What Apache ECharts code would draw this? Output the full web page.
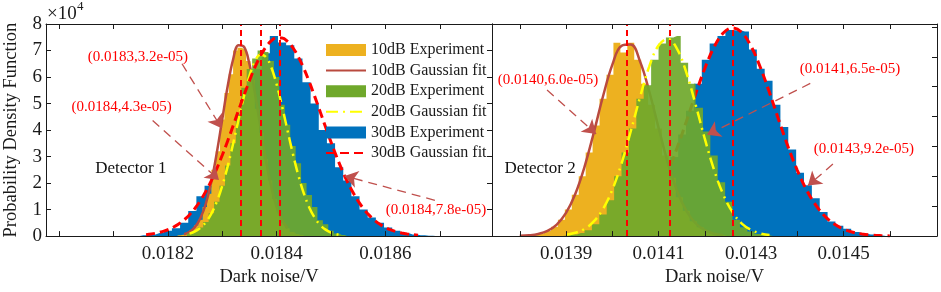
<!DOCTYPE html>
<html>
<head>
<meta charset="UTF-8">
<title>Dark noise PDF</title>
<script src="https://cdn.jsdelivr.net/npm/echarts@6/dist/echarts.min.js"></script>
<style>
  html, body { margin: 0; padding: 0; background: #fff; }
  #main { width: 941px; height: 292px; }
</style>
</head>
<body>
<div id="main"></div>
<script>
var _ = null;

// ---- Detector 1 (left) ----
var xTicks1 = [0.0180, 0.0181, 0.0182, 0.0183, 0.0184, 0.0185, 0.0186, 0.0187];
var xLabels1 = [0.0182, 0.0184, 0.0186];

// histogram bins: first bin centre, bin width, heights (x1e4)
var blue1Start = 0.018155, blue1Width = 0.000015;
var blue1Hist = [0.03,0.06,0.12,0.2,0.3,0.5,0.95,1.5,1.9,2.5,3.1,3.9,4.6,5.5,6.3,6.9,7.55,7.3,7.2,6.7,
                 5.8,5.0,4.0,3.5,2.6,2.1,1.5,1.0,0.7,0.5,0.32,0.2,0.12,0.06,0.03,0.01];
var orange1Start = 0.01822, orange1Width = 0.000008;
var orange1Hist = [0.03,0.05,0.1,0.22,0.4,0.62,1.1,1.6,2.5,3.2,4.4,5.4,6.1,7.0,7.1,7.05,6.6,5.9,4.8,3.9,
                   2.9,2.1,1.4,0.9,0.5,0.3,0.15,0.08,0.04];
var green1Start = 0.01824, green1Width = 0.00001;
var green1Hist = [0.1,0.18,0.32,0.53,0.86,1.3,1.9,2.66,3.5,4.6,5.6,6.3,6.7,7.0,6.94,6.6,6.0,4.95,4.2,3.4,
                  2.75,2.0,1.55,1.1,0.6,0.45,0.2,0.1,0.04];

// gaussian fits, read along a common x grid
var fitX1 = [0.01816,0.01817,0.01818,0.01819,0.01820,0.01821,0.01822,0.01823,0.01824,0.01825,
             0.01826,0.01827,0.01828,0.01829,0.01830,0.01831,0.01832,0.01833,0.01834,0.01835,
             0.01836,0.01837,0.01838,0.01839,0.01840,0.01841,0.01842,0.01843,0.01844,0.01845,
             0.01846,0.01847,0.01848,0.01849,0.01850,0.01851,0.01852,0.01853,0.01854,0.01855,
             0.01856,0.01857,0.01858,0.01859,0.01860,0.01861,0.01862,0.01863,0.01864,0.01865,0.01866];
var orangeFit1 = [_,_,_,_,_,_,_,0.07,0.16,0.34,
                  0.68,1.23,2.05,3.14,4.40,5.65,6.66,7.20,7.14,6.49,
                  5.41,4.14,2.90,1.87,1.10,0.60,0.30,_,_,_,
                  _,_,_,_,_,_,_,_,_,_,
                  _,_,_,_,_,_,_,_,_,_,_];
var greenFit1 = [_,_,_,_,_,_,_,_,0.095,0.176,
                 0.312,0.527,0.847,1.297,1.893,2.630,3.482,4.392,5.276,6.038,
                 6.583,6.837,6.764,6.375,5.724,4.896,3.989,3.096,2.289,1.612,
                 1.082,0.692,0.421,0.244,0.135,0.071,0.036,_,_,_,
                 _,_,_,_,_,_,_,_,_,_,_];
var blueFit1 = [0.055,0.081,0.119,0.170,0.240,0.333,0.455,0.612,0.808,1.051,
                1.344,1.690,2.090,2.546,3.048,3.590,4.159,4.741,5.315,5.862,
                6.360,6.788,7.127,7.360,7.477,7.472,7.345,7.103,6.757,6.323,
                5.820,5.270,4.695,4.113,3.545,3.006,2.507,2.057,1.660,1.318,
                1.029,0.791,0.598,0.444,0.325,0.234,0.165,0.115,0.079,0.053,0.035];
var means1 = [0.018334, 0.018371, 0.018405];

// ---- Detector 2 (right) ----
var xTicks2 = [0.0138, 0.0139, 0.0140, 0.0141, 0.0142, 0.0143, 0.0144, 0.0145, 0.0146];
var xLabels2 = [0.0139, 0.0141, 0.0143, 0.0145];

var blue2Start = 0.01393, blue2Width = 0.000017;
var blue2Hist = [0.01,0.02,0.04,0.07,0.11,0.19,0.31,0.48,0.73,1.05,1.5,2.0,2.65,3.4,4.2,5.1,5.9,6.45,6.7,6.9,
                 6.88,6.85,6.25,5.6,5.2,4.4,3.65,2.9,2.12,1.7,1.27,0.81,0.49,0.35,0.25,0.14,0.08,0.05,0.02];
var orange2Start = 0.01383, orange2Width = 0.000015;
var orange2Hist = [0.04,0.09,0.17,0.31,0.55,0.89,1.38,2.0,2.8,3.7,4.6,5.4,6.47,6.15,6.47,5.9,5.1,4.4,3.6,2.7,
                   1.95,1.3,0.85,0.5,0.3,0.16,0.08,0.04];
var green2Start = 0.01390, green2Width = 0.000016;
var green2Hist = [0.02,0.05,0.1,0.2,0.4,0.72,1.2,2.0,2.8,3.6,4.6,5.05,5.9,6.45,6.65,6.7,5.8,5.1,4.3,3.5,
                  2.7,1.8,1.15,0.55,0.3,0.15,0.07,0.03];

var fitX2 = [0.01380,0.01382,0.01384,0.01386,0.01388,0.01390,0.01392,0.01394,0.01396,0.01398,
             0.01400,0.01402,0.01404,0.01406,0.01408,0.01410,0.01412,0.01414,0.01416,0.01418,
             0.01420,0.01422,0.01424,0.01426,0.01428,0.01430,0.01432,0.01434,0.01436,0.01438,
             0.01440,0.01442,0.01444,0.01446,0.01448,0.01450,0.01452,0.01454,0.01456,0.01458,0.01460];
var orangeFit2 = [0.009,0.027,0.072,0.175,0.387,0.776,1.41,2.32,3.46,4.68,
                  5.73,6.37,6.41,5.85,4.84,3.63,2.46,1.52,0.85,0.43,
                  0.2,0.08,0.03,_,_,_,_,_,_,_,
                  _,_,_,_,_,_,_,_,_,_,_];
var greenFit2 = [_,_,_,_,_,0.046,0.11,0.24,0.49,0.91,
                 1.55,2.43,3.51,4.65,5.68,6.38,6.6,6.27,5.48,4.41,
                 3.26,2.22,1.39,0.80,0.42,0.21,0.09,0.04,_,_,
                 _,_,_,_,_,_,_,_,_,_,_];
var blueFit2 = [_,_,_,_,_,_,_,_,0.033,0.066,
                0.125,0.227,0.391,0.644,1.012,1.515,2.164,2.948,3.831,4.747,
                5.61,6.324,6.798,6.97,6.815,6.356,5.654,4.795,3.88,2.994,
                2.203,1.547,1.035,0.661,0.402,0.234,0.13,0.068,0.034,0.016,0.007];
var means2 = [0.014032, 0.014125, 0.014261];

// annotations: [x, y, text] and arrows [x0, y0, x1, y1] in data units
var notes1 = [[0.018145, 6.75, '(0.0183,3.2e-05)'], [0.018115, 4.88, '(0.0184,4.3e-05)'],
              [0.018693, 0.98, '(0.0184,7.8e-05)']];
var arrows1 = [[0.018226, 6.5, 0.018299, 4.07], [0.018172, 4.36, 0.018294, 2.12],
               [0.018691, 1.35, 0.018525, 2.27]];
var notes2 = [[0.013861, 5.21, '(0.0140,6.0e-05)'], [0.014514, 5.6, '(0.0141,6.5e-05)'],
              [0.014544, 2.9, '(0.0143,9.2e-05)']];
var arrows2 = [[0.013859, 4.89, 0.013965, 3.42], [0.014428, 5.11, 0.014205, 3.39],
               [0.014477, 2.41, 0.014423, 1.69]];

var FONT = 'Liberation Serif';
var AXC = '#1a1a1a';
var ORANGE = '#EDB120', GREEN = '#6FA82B', BLUE = '#0072BD';
var BROWN = '#B94A3F', YELLOW = '#FFFF00', RED = '#FF0000', ARROW = '#C0504D';

function histData(start, width, heights) {
    var d = [[start - width, 0]];
    heights.forEach(function (h, i) { d.push([start + i * width, h]); });
    d.push([start + heights.length * width, 0]);
    return d;
}

function histSeries(name, color, opacity, start, width, heights, ax) {
    return {
        name: name, type: 'line', xAxisIndex: ax, yAxisIndex: ax, step: 'middle',
        data: histData(start, width, heights), symbol: 'none', silent: true,
        color: color, itemStyle: { color: color },
        lineStyle: { width: 0 }, areaStyle: { color: color, opacity: opacity }
    };
}

function fitSeries(name, color, width, type, xs, ys, ax) {
    return {
        name: name, type: 'line', xAxisIndex: ax, yAxisIndex: ax, smooth: 0.4,
        data: xs.map(function (x, i) { return [x, ys[i]]; }),
        symbol: 'none', silent: true, color: color, itemStyle: { color: color },
        lineStyle: { color: color, width: width, type: type }
    };
}

function meanSeries(means, top, ax) {
    return {
        type: 'line', xAxisIndex: ax, yAxisIndex: ax, data: [], silent: true,
        markLine: {
            z: 20, symbol: 'none', silent: true, label: { show: false },
            lineStyle: { color: RED, width: 2, type: [6, 4] },
            data: means.map(function (m) { return [{ coord: [m, 0] }, { coord: [m, top] }]; })
        }
    };
}

function noteSeries(notes, arrows, detector, ax) {
    var pts = notes.map(function (n) { return { name: n[2], coord: [n[0], n[1]] }; });
    pts.push({ name: detector[2], coord: [detector[0], detector[1]],
               label: { color: '#111', fontSize: 17 } });
    return {
        type: 'line', xAxisIndex: ax, yAxisIndex: ax, data: [], silent: true,
        markLine: {
            z: 21, symbol: ['none', 'arrow'], symbolSize: 13, silent: true, label: { show: false },
            lineStyle: { color: ARROW, width: 1.3, type: [9, 6] },
            itemStyle: { color: ARROW },
            data: arrows.map(function (a) { return [{ coord: [a[0], a[1]] }, { coord: [a[2], a[3]] }]; })
        },
        markPoint: {
            z: 21, symbol: 'circle', symbolSize: 0, silent: true,
            label: { show: true, position: 'inside', color: RED, fontFamily: FONT, fontSize: 15,
                     formatter: '{b}' },
            data: pts
        }
    };
}

function xAx(grid, min, max, ticks, labels, pos, main) {
    return {
        type: 'value', gridIndex: grid, position: pos, min: min, max: max, z: 100,
        axisLine: { show: true, onZero: false, lineStyle: { color: AXC, width: 1 } },
        axisTick: { show: true, inside: true, length: 5, customValues: ticks, lineStyle: { color: AXC } },
        axisLabel: { show: main, customValues: labels, margin: 8, fontFamily: FONT, fontSize: 19, color: AXC,
                     formatter: function (v) { return v.toFixed(4); } },
        splitLine: { show: false },
        name: main ? 'Dark noise/V' : '', nameLocation: 'middle', nameGap: 29,
        nameTextStyle: { fontFamily: FONT, fontSize: 18.5, color: AXC }
    };
}

function yAx(grid, max, pos, showLabel, showTick, name) {
    return {
        type: 'value', gridIndex: grid, position: pos, min: 0, max: max, interval: 1, z: 100,
        axisLine: { show: true, onZero: false, lineStyle: { color: AXC, width: 1 } },
        axisTick: { show: showTick, inside: true, length: 5, lineStyle: { color: AXC } },
        axisLabel: { show: showLabel, margin: 4, fontFamily: FONT, fontSize: 19, color: AXC },
        splitLine: { show: false },
        name: name || '', nameLocation: 'middle', nameGap: 25, nameRotate: 90,
        nameTextStyle: { fontFamily: FONT, fontSize: 18.5, color: AXC }
    };
}

var myChart = echarts.init(document.getElementById('main'));

// drawing order matters: later series sit on top (green bars hide the 10dB fit)
var series = [
    // Detector 1
    histSeries('30dB Experiment', BLUE, 1, blue1Start, blue1Width, blue1Hist, 0),
    histSeries('10dB Experiment', ORANGE, 1, orange1Start, orange1Width, orange1Hist, 0),
    fitSeries('10dB Gaussian fit', BROWN, 2.5, 'solid', fitX1, orangeFit1, 0),
    histSeries('20dB Experiment', GREEN, 0.92, green1Start, green1Width, green1Hist, 0),
    fitSeries('20dB Gaussian fit', YELLOW, 2.5, [12, 5, 2, 5], fitX1, greenFit1, 0),
    fitSeries('30dB Gaussian fit', RED, 3, [9, 5], fitX1, blueFit1, 0),
    meanSeries(means1, 8, 0),
    noteSeries(notes1, arrows1, [0.018132, 2.53, 'Detector 1'], 0),
    // Detector 2
    histSeries('30dB Experiment', BLUE, 1, blue2Start, blue2Width, blue2Hist, 1),
    fitSeries('30dB Gaussian fit', RED, 3, [9, 5], fitX2, blueFit2, 1),
    histSeries('10dB Experiment', ORANGE, 1, orange2Start, orange2Width, orange2Hist, 1),
    fitSeries('10dB Gaussian fit', BROWN, 2.5, 'solid', fitX2, orangeFit2, 1),
    histSeries('20dB Experiment', GREEN, 0.92, green2Start, green2Width, green2Hist, 1),
    fitSeries('20dB Gaussian fit', YELLOW, 2.5, [12, 5, 2, 5], fitX2, greenFit2, 1),
    meanSeries(means2, 7.1, 1),
    noteSeries(notes2, arrows2, [0.013844, 2.25, 'Detector 2'], 1)
];
series.forEach(function (s, i) { s.z = 2 + (i % 8); });

var hideSym = { opacity: 0 };

var option = {
    animation: false,
    backgroundColor: '#fff',
    grid: [
        { left: 46, top: 24, width: 446, height: 218 },
        { left: 492, top: 24, width: 445, height: 218 }
    ],
    xAxis: [
        xAx(0, 0.017976, 0.018796, xTicks1, xLabels1, 'bottom', true),
        xAx(1, 0.01374, 0.014702, xTicks2, xLabels2, 'bottom', true),
        xAx(0, 0.017976, 0.018796, xTicks1, xLabels1, 'top', false),
        xAx(1, 0.01374, 0.014702, xTicks2, xLabels2, 'top', false)
    ],
    yAxis: [
        yAx(0, 8, 'left', true, true, 'Probability Density Function'),
        yAx(1, 7.1, 'right', false, true),
        yAx(0, 8, 'right', false, true),
        yAx(1, 7.1, 'left', false, false)
    ],
    legend: {
        orient: 'vertical', left: 325, top: 42, padding: 0, z: 50,
        itemWidth: 40, itemHeight: 12, itemGap: 4.6,
        selectedMode: false,
        textStyle: { fontFamily: FONT, fontSize: 16, color: AXC, lineHeight: 12 },
        data: [
            { name: '10dB Experiment', icon: 'rect' },
            { name: '10dB Gaussian fit', itemStyle: hideSym },
            { name: '20dB Experiment', icon: 'rect' },
            { name: '20dB Gaussian fit', itemStyle: hideSym },
            { name: '30dB Experiment', icon: 'rect' },
            { name: '30dB Gaussian fit', itemStyle: hideSym }
        ]
    },
    graphic: [
        { type: 'text', left: 47, top: 5, style: { text: '×10', font: '19px "Liberation Serif"', fill: AXC } },
        { type: 'text', left: 77, top: 0, style: { text: '4', font: '13px "Liberation Serif"', fill: AXC } }
    ],
    series: series
};

myChart.setOption(option);
</script>
</body>
</html>
